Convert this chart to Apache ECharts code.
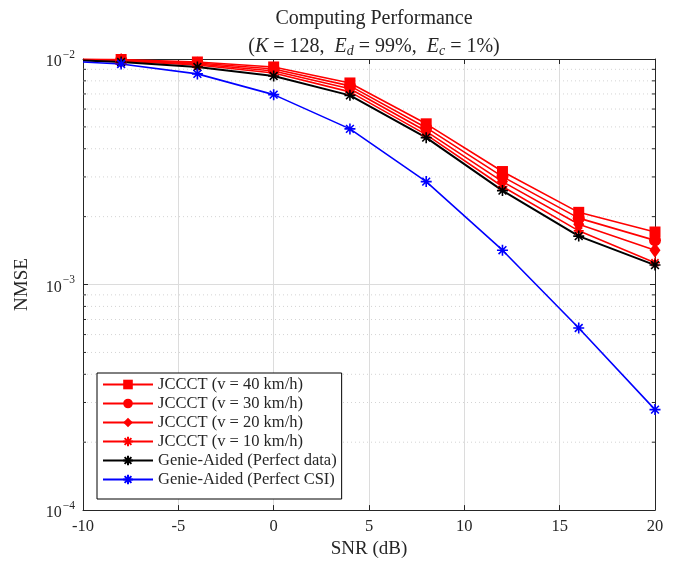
<!DOCTYPE html>
<html>
<head>
<meta charset="utf-8">
<script src="https://cdn.jsdelivr.net/npm/echarts@6/dist/echarts.min.js"></script>
<style>
  html, body { margin: 0; padding: 0; background: #fff; }
  #chart { width: 686px; height: 564px; }
</style>
</head>
<body>
<div id="chart"></div>
<script>
// SNR sample points (dB); the first point carries no marker
const snr = [-10, -8, -4, 0, 4, 8, 12, 16, 20];

// NMSE curves
const jcccT40 = [9.98e-3, 9.95e-3, 9.70e-3, 9.22e-3, 7.83e-3, 5.16e-3, 3.17e-3, 2.09e-3, 1.71e-3];
const jcccT30 = [9.95e-3, 9.90e-3, 9.60e-3, 9.03e-3, 7.60e-3, 4.96e-3, 3.01e-3, 1.97e-3, 1.57e-3];
const jcccT20 = [9.92e-3, 9.85e-3, 9.50e-3, 8.85e-3, 7.38e-3, 4.78e-3, 2.86e-3, 1.85e-3, 1.42e-3];
const jcccT10 = [9.90e-3, 9.80e-3, 9.40e-3, 8.67e-3, 7.15e-3, 4.62e-3, 2.72e-3, 1.73e-3, 1.25e-3];
const genieData = [9.85e-3, 9.70e-3, 9.22e-3, 8.41e-3, 6.90e-3, 4.48e-3, 2.61e-3, 1.64e-3, 1.22e-3];
const genieCsi = [9.70e-3, 9.50e-3, 8.59e-3, 6.95e-3, 4.90e-3, 2.86e-3, 1.42e-3, 6.42e-4, 2.79e-4];

const seriesNames = [
  'JCCCT (v = 40 km/h)',
  'JCCCT (v = 30 km/h)',
  'JCCCT (v = 20 km/h)',
  'JCCCT (v = 10 km/h)',
  'Genie-Aided (Perfect data)',
  'Genie-Aided (Perfect CSI)'
];

// axis ticks
const xTicks = { min: -10, max: 20, step: 5 };
const yRange = { min: 1e-4, max: 1e-2 };
const minorTicks = [2e-4, 3e-4, 4e-4, 5e-4, 6e-4, 7e-4, 8e-4, 9e-4,
                    2e-3, 3e-3, 4e-3, 5e-3, 6e-3, 7e-3, 8e-3, 9e-3];

const SERIF = '"Liberation Serif", "DejaVu Serif", serif';
const INK = '#262626';
const ASTERISK = 'path://M0,-5L0,5M-5,0L5,0M-3.54,-3.54L3.54,3.54M-3.54,3.54L3.54,-3.54';

function toData(vals) {
  return snr.map((x, i) => i === 0 ? { value: [x, vals[i]], symbol: 'none' } : [x, vals[i]]);
}

function lineSeries(name, vals, color, symbol, size, width, isStar) {
  return {
    name: name,
    type: 'line',
    data: toData(vals),
    symbol: symbol,
    symbolSize: size,
    showAllSymbol: true,
    lineStyle: { color: color, width: width },
    itemStyle: isStar
      ? { color: color, borderColor: color, borderWidth: 1.6 }
      : { color: color, borderWidth: 0 },
    emphasis: { disabled: true },
    z: 3
  };
}

const chart = echarts.init(document.getElementById('chart'), null, { renderer: 'canvas' });

const option = {
  animation: false,
  backgroundColor: '#fff',
  title: [
    {
      text: 'Computing Performance',
      left: 369, top: 4, textAlign: 'center',
      textStyle: { fontFamily: SERIF, fontSize: 20, fontWeight: 'normal', color: INK }
    },
    {
      text: '{p|(}{i|K}{p| = 128,  }{i|E}{s|d}{p| = 99%,  }{i|E}{s|c}{p| = 1%)}',
      left: 369, top: 31, textAlign: 'center',
      textStyle: {
        fontFamily: SERIF, fontSize: 20, fontWeight: 'normal', color: INK,
        rich: {
          p: { fontFamily: SERIF, fontSize: 20, fontWeight: 'normal', color: INK },
          i: { fontFamily: SERIF, fontSize: 20, fontWeight: 'normal', fontStyle: 'italic', color: INK },
          s: { fontFamily: SERIF, fontSize: 14, fontWeight: 'normal', fontStyle: 'italic', color: INK, padding: [8, 0, 0, 0] }
        }
      }
    }
  ],
  grid: { left: 83, right: 31, top: 59, bottom: 52, containLabel: false },
  legend: {
    orient: 'vertical',
    left: 97, top: 373,
    data: seriesNames,
    itemWidth: 50, itemHeight: 12, itemGap: 2,
    padding: [3, 5, 11, 5],
    backgroundColor: '#fff',
    borderColor: '#000', borderWidth: 1, borderRadius: 0,
    textStyle: { fontFamily: SERIF, fontSize: 16.5, lineHeight: 15, color: INK },
    selectedMode: false
  },
  xAxis: [
    {
      type: 'value', min: xTicks.min, max: xTicks.max, interval: xTicks.step,
      name: 'SNR (dB)', nameLocation: 'middle', nameGap: 29,
      nameTextStyle: { fontFamily: SERIF, fontSize: 19, color: INK },
      axisLine: { show: true, onZero: false, lineStyle: { color: INK, width: 1 } },
      axisTick: { show: true, inside: true, length: 5, lineStyle: { color: INK } },
      axisLabel: { fontFamily: SERIF, fontSize: 16.5, color: INK, margin: 8 },
      splitLine: { show: true, lineStyle: { color: '#dcdcdc', width: 1 } }
    },
    {
      type: 'value', position: 'top', min: xTicks.min, max: xTicks.max, interval: xTicks.step,
      axisLine: { show: true, onZero: false, lineStyle: { color: INK, width: 1 } },
      axisTick: { show: true, inside: true, length: 5, lineStyle: { color: INK } },
      axisLabel: { show: false },
      splitLine: { show: false }
    }
  ],
  yAxis: [
    {
      type: 'log', logBase: 10, min: yRange.min, max: yRange.max,
      name: 'NMSE', nameLocation: 'middle', nameGap: 51,
      nameTextStyle: { fontFamily: SERIF, fontSize: 19, color: INK },
      axisLine: { show: true, onZero: false, lineStyle: { color: INK, width: 1 } },
      axisTick: { show: true, inside: true, length: 5, lineStyle: { color: INK } },
      axisLabel: {
        margin: 8,
        formatter: function (v) {
          const e = Math.round(Math.log10(v));
          return '{b|10}{e|' + (e < 0 ? '\u2212' + (-e) : e) + '}';
        },
        rich: {
          b: { fontFamily: SERIF, fontSize: 16, color: INK, padding: [6, 0, 0, 0] },
          e: { fontFamily: SERIF, fontSize: 11.5, color: INK, padding: [0, 0, 9, 1] }
        }
      },
      splitLine: { show: true, lineStyle: { color: '#dcdcdc', width: 1 } }
    },
    {
      type: 'log', logBase: 10, min: yRange.min, max: yRange.max, position: 'right',
      axisLine: { show: true, onZero: false, lineStyle: { color: INK, width: 1 } },
      axisTick: { show: true, inside: true, length: 5, lineStyle: { color: INK } },
      axisLabel: { show: false },
      splitLine: { show: false }
    }
  ],
  series: [
    {
      // dotted minor grid and minor ticks on both vertical axes
      type: 'custom',
      silent: true,
      z: 1,
      xAxisIndex: 0, yAxisIndex: 0,
      data: minorTicks.map(v => [xTicks.min, v]),
      renderItem: function (params, api) {
        const y = api.value(1);
        const a = api.coord([xTicks.min, y]);
        const b = api.coord([xTicks.max, y]);
        return {
          type: 'group',
          children: [
            { type: 'line', shape: { x1: a[0], y1: a[1], x2: b[0], y2: a[1] },
              style: { stroke: '#d4d4d4', lineWidth: 1, lineDash: [1, 3] } },
            { type: 'line', shape: { x1: a[0], y1: a[1], x2: a[0] + 3, y2: a[1] },
              style: { stroke: INK, lineWidth: 1 } },
            { type: 'line', shape: { x1: b[0] - 3, y1: b[1], x2: b[0], y2: b[1] },
              style: { stroke: INK, lineWidth: 1 } }
          ]
        };
      }
    },
    lineSeries(seriesNames[0], jcccT40, '#ff0000', 'rect', 11, 1.6, false),
    lineSeries(seriesNames[1], jcccT30, '#ff0000', 'circle', 12, 1.6, false),
    lineSeries(seriesNames[2], jcccT20, '#ff0000', 'diamond', [11, 15], 1.6, false),
    lineSeries(seriesNames[3], jcccT10, '#ff0000', ASTERISK, 10, 1.6, true),
    lineSeries(seriesNames[4], genieData, '#000000', ASTERISK, 11, 2, true),
    lineSeries(seriesNames[5], genieCsi, '#0000ff', ASTERISK, 11, 1.6, true)
  ]
};

chart.setOption(option);
</script>
</body>
</html>
